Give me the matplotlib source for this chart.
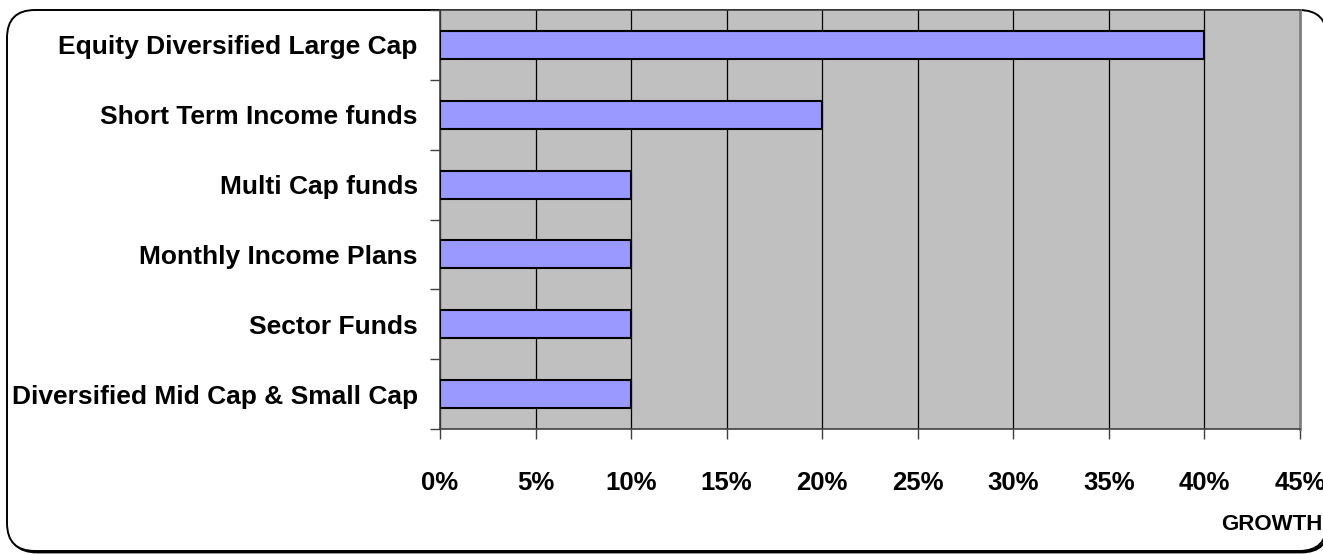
import numpy as np
import matplotlib.pyplot as plt
from matplotlib.patches import FancyBboxPatch
from matplotlib.transforms import IdentityTransform

plt.rcParams['font.family'] = ['Liberation Sans', 'DejaVu Sans']
plt.rcParams['font.weight'] = 'bold'

categories = ['Equity Diversified Large Cap', 'Short Term Income funds',
              'Multi Cap funds', 'Monthly Income Plans', 'Sector Funds',
              'Diversified Mid Cap & Small Cap']
growth = [40, 20, 10, 10, 10, 10]  # percent
xticks = np.arange(0, 50, 5)
xlabels = ['%d%%' % t for t in xticks]

W, H = 1323, 554
fig = plt.figure(figsize=(W / 100, H / 100), dpi=100)

# rounded frame around the chart (pixel coords), with a small shadow
shadow = FancyBboxPatch((9, 2), 1320, 540, boxstyle="round,pad=0,rounding_size=28",
                        transform=IdentityTransform(), facecolor='none',
                        edgecolor='black', linewidth=2.0, zorder=0)
frame = FancyBboxPatch((7, 3), 1320, 541, boxstyle="round,pad=0,rounding_size=28",
                       transform=IdentityTransform(), facecolor='white',
                       edgecolor='black', linewidth=1.4, zorder=0)
fig.add_artist(shadow)
fig.add_artist(frame)

ax = fig.add_axes([440 / W, 1 - 429 / H, 860 / W, 419 / H])
ax.set_facecolor('#C0C0C0')

y = np.arange(len(categories))
ax.barh(y, growth, height=0.4, color='#9999FF', edgecolor='black',
        linewidth=1.5, zorder=3)

ax.set_xlim(0, 45)
ax.set_ylim(len(categories) - 0.5, -0.5)

ax.set_xticks(xticks)
ax.set_xticklabels(xlabels, fontsize=18.5, fontweight='bold')
ax.tick_params(axis='x', direction='out', length=7.5, width=1, color='#404040', pad=23)
ax.xaxis.grid(True, color='black', linewidth=0.9, zorder=1)
ax.set_axisbelow(True)

ax.set_yticks(y)
ax.set_yticklabels(categories, fontsize=19, fontweight='bold')
ax.tick_params(axis='y', which='major', length=0, pad=16)
ax.set_yticks(np.arange(-0.5, len(categories), 1), minor=True)
ax.tick_params(axis='y', which='minor', direction='out', length=7.5, width=1, color='#404040')

for side in ['left', 'bottom', 'top']:
    ax.spines[side].set_color('#404040')
    ax.spines[side].set_linewidth(1.2)
ax.spines['right'].set_color('#808080')
ax.spines['right'].set_linewidth(2)

fig.text(1322 / W, 1 - 524 / H, 'GROWTH', ha='right', va='center',
         fontsize=16, fontweight='bold')

fig.savefig('out.png', dpi=100)
